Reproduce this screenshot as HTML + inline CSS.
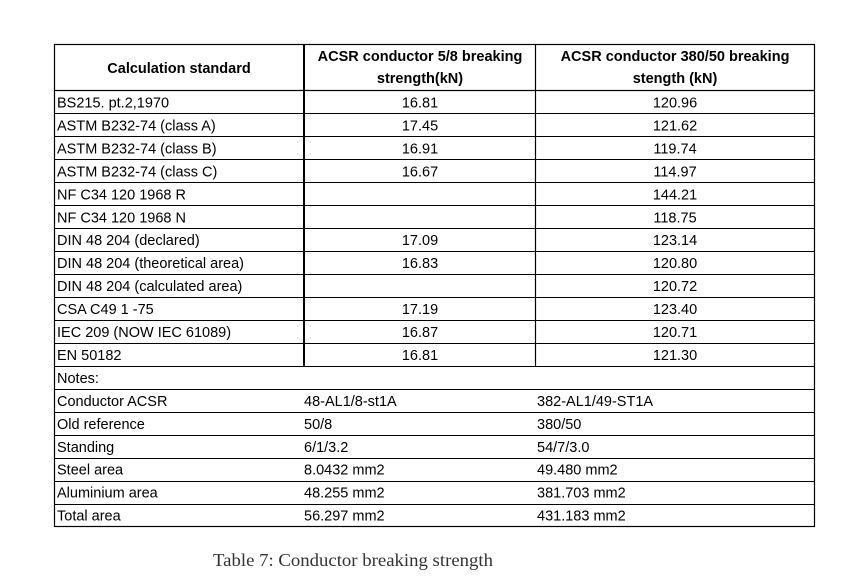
<!DOCTYPE html>
<html><head><meta charset="utf-8"><style>
html,body{margin:0;padding:0;background:#fff;width:854px;height:586px;overflow:hidden}
svg{display:block}
text{font-family:"Liberation Sans",sans-serif;font-size:14.5px;fill:#000}
</style></head><body>
<svg id="t" width="854" height="586">
<rect x="54.5" y="44.5" width="760" height="482" fill="none" stroke="#000" stroke-width="1.2"/>
<g>
<text x="179" y="73" text-anchor="middle" font-weight="bold">Calculation standard</text>
<text x="420" y="61" text-anchor="middle" font-weight="bold">ACSR conductor 5/8 breaking</text>
<text x="420" y="83" text-anchor="middle" font-weight="bold">strength(kN)</text>
<text x="675" y="61" text-anchor="middle" font-weight="bold">ACSR conductor 380/50 breaking</text>
<text x="675" y="83" text-anchor="middle" font-weight="bold">stength (kN)</text>
</g>
<text x="213" y="566" style="font-family:'Liberation Serif',serif;font-size:17.5px;fill:#333" textLength="280" lengthAdjust="spacingAndGlyphs">Table 7: Conductor breaking strength</text>
</svg>
<script>
const standards=["BS215. pt.2,1970","ASTM B232-74 (class A)","ASTM B232-74 (class B)","ASTM B232-74 (class C)","NF C34 120 1968  R","NF C34 120 1968  N","DIN 48 204 (declared)","DIN 48 204 (theoretical area)","DIN 48 204 (calculated area)","CSA C49 1 -75","IEC 209 (NOW IEC 61089)","EN 50182"];
const v58=["16.81","17.45","16.91","16.67","","","17.09","16.83","","17.19","16.87","16.81"];
const v380=["120.96","121.62","119.74","114.97","144.21","118.75","123.14","120.80","120.72","123.40","120.71","121.30"];
const noteLabels=["Conductor ACSR","Old reference","Standing","Steel area","Aluminium area","Total area"];
const note58=["48-AL1/8-st1A","50/8","6/1/3.2","8.0432 mm2","48.255 mm2","56.297 mm2"];
const note380=["382-AL1/49-ST1A","380/50","54/7/3.0","49.480 mm2","381.703 mm2","431.183 mm2"];
const svg=document.getElementById('t');
const NS="http://www.w3.org/2000/svg";
const top0=90.5, rh=22.95;
function line(x1,y1,x2,y2,w,name){const l=document.createElementNS(NS,'line');l.setAttribute('x1',x1);l.setAttribute('y1',y1);l.setAttribute('x2',x2);l.setAttribute('y2',y2);l.setAttribute('stroke','#000');l.setAttribute('stroke-width',w);


svg.appendChild(l);}
function txt(x,y,s,anchor,name){const t=document.createElementNS(NS,'text');t.setAttribute('x',x);t.setAttribute('y',y);if(anchor)t.setAttribute('text-anchor',anchor);t.textContent=s;


svg.appendChild(t);}
const totalRows=standards.length+1+noteLabels.length;
line(54.5,top0,814.5,top0,1.2,'header-bottom-line');
for(let i=1;i<totalRows;i++){const y=Math.round(top0+i*rh)+0.5;line(54.5,y,814.5,y,1.1,'row-line');}
const dataBottom=top0+standards.length*rh;
line(304,44.5,304,dataBottom,2,'column-divider-1');
line(535.5,44.5,535.5,dataBottom,1.2,'column-divider-2');
standards.forEach((s,i)=>{const y=top0+i*rh+17;
txt(57,y,s,null,'standard-label');
if(v58[i])txt(420,y,v58[i],'middle','value-5-8');
txt(675,y,v380[i],'middle','value-380-50');});
txt(57,top0+standards.length*rh+17,"Notes:",null,'notes-label');
noteLabels.forEach((s,i)=>{const y=top0+(standards.length+1+i)*rh+17;
txt(57,y,s,null,'note-label');
txt(304,y,note58[i],null,'note-value-5-8');
txt(537,y,note380[i],null,'note-value-380-50');});
</script>
</body></html>
